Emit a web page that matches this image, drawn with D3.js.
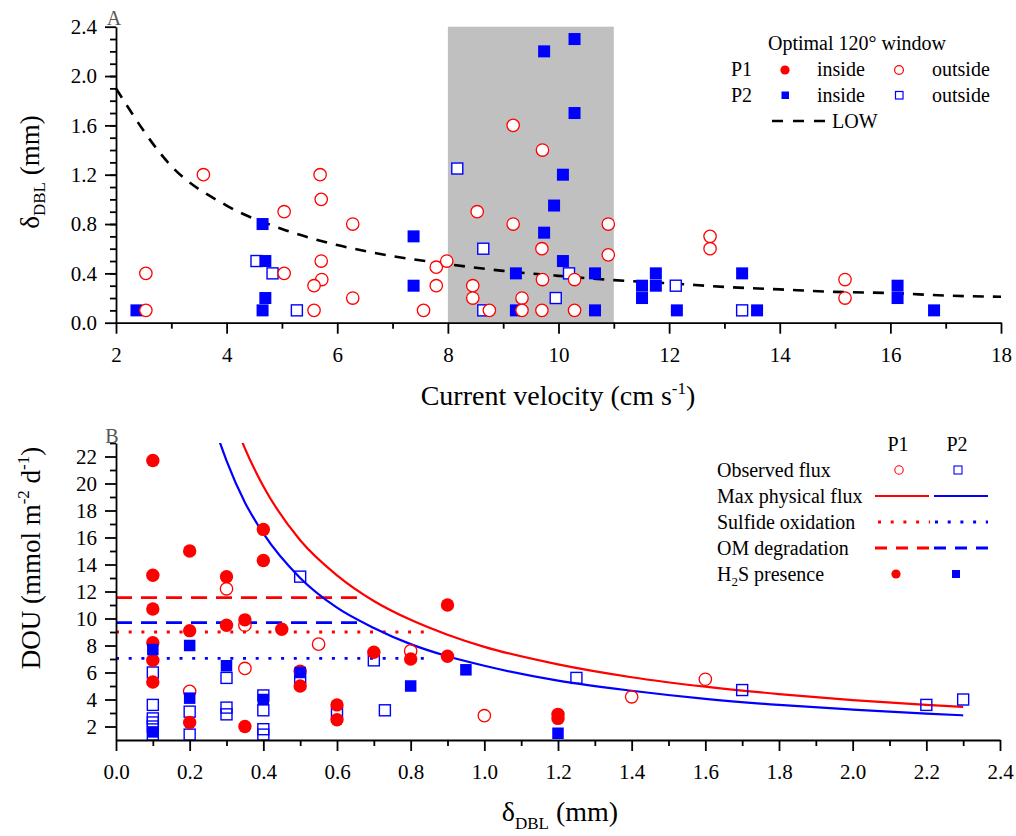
<!DOCTYPE html>
<html>
<head>
<meta charset="utf-8">
<script src="https://cdn.jsdelivr.net/npm/d3@7"></script>
<style>
  body { margin: 0; background: #fff; }
  svg { display: block; }
  text { font-family: "Liberation Serif", "Times New Roman", serif; fill: #000; }
</style>
</head>
<body>
<svg id="chart" width="1016" height="836"></svg>
<script>
// ---------- Panel A: diffusive boundary layer thickness vs current velocity ----------
// [velocity (cm s-1), δDBL (mm)]
const aP1Outside = [
  [2.54,0.1],[2.54,0.4],[3.58,1.2],[5.04,0.9],[5.04,0.4],[5.69,1.2],[5.71,1.0],[5.71,0.5],
  [5.72,0.35],[5.58,0.3],[5.58,0.1],[6.28,0.8],[6.28,0.2],[7.79,0.45],[7.79,0.3],[7.56,0.1],
  [7.98,0.5],[9.18,1.6],[9.71,1.4],[8.53,0.9],[9.18,0.8],[10.9,0.8],[9.70,0.6],[10.9,0.55],
  [9.71,0.35],[10.29,0.35],[8.45,0.3],[8.45,0.2],[9.34,0.2],[8.75,0.1],[9.34,0.1],[9.70,0.1],
  [10.29,0.1],[12.74,0.7],[12.74,0.6],[15.18,0.35],[15.18,0.2]
];
const aP2Inside = [
  [2.37,0.1],[4.65,0.8],[4.70,0.5],[4.70,0.2],[4.65,0.1],[7.38,0.7],[7.38,0.3],[10.29,2.3],
  [9.74,2.2],[10.29,1.7],[10.08,1.2],[9.92,0.95],[9.74,0.73],[10.08,0.5],[9.23,0.4],[10.66,0.4],
  [9.23,0.1],[10.66,0.1],[11.51,0.3],[11.51,0.2],[11.76,0.4],[11.76,0.3],[12.14,0.1],[13.32,0.4],
  [13.59,0.1],[16.13,0.3],[16.13,0.2],[16.79,0.1]
];
const aP2Outside = [
  [4.54,0.5],[4.83,0.4],[5.27,0.1],[8.17,1.25],[8.64,0.6],[10.19,0.4],[9.95,0.2],[8.64,0.1],
  [12.12,0.3],[13.32,0.1]
];
// LOW relation, sampled along the curve
const lowVelocity = [2,3,4,5,6,7,8,9,10,11,12,13,14,15,16,17,18];
const lowDbl      = [1.90,1.27,0.95,0.76,0.63,0.54,0.475,0.42,0.38,0.345,0.32,0.29,0.27,0.25,0.24,0.22,0.21];
// optimal 120° window (velocity range)
const windowRange = [8, 11];

const aXTicks = [2,4,6,8,10,12,14,16,18];
const aXMinor = [3,5,7,9,11,13,15,17];
const aYTicks = [0,0.4,0.8,1.2,1.6,2.0,2.4];
const aYMinor = d3.range(1,24).map(i => i/10);

// ---------- Panel B: DOU vs δDBL ----------
// [δDBL (mm), DOU (mmol m-2 d-1)]
const bP1Observed = [
  [0.3,12.2],[0.35,9.5],[0.35,6.3],[0.2,4.6],[0.55,8.1],[0.8,7.6],[1.0,2.8],[1.4,4.2],[1.6,5.5]
];
const bP2Observed = [
  [0.1,6.0],[0.1,3.6],[0.1,2.6],[0.1,2.3],[0.1,2.0],[0.1,1.4],[0.2,3.1],[0.2,1.4],[0.3,5.6],
  [0.3,3.4],[0.3,2.9],[0.4,4.3],[0.4,3.2],[0.4,1.8],[0.4,1.4],[0.5,13.1],[0.5,5.6],[0.6,3.0],
  [0.7,6.9],[0.73,3.2],[1.25,5.6],[1.7,4.7],[2.2,3.6],[2.3,4.0]
];
const bP1H2S = [
  [0.1,21.7],[0.1,13.2],[0.1,10.7],[0.1,8.2],[0.1,6.9],[0.1,5.3],[0.2,15.0],[0.2,9.1],[0.2,2.3],
  [0.3,13.1],[0.3,9.5],[0.35,9.9],[0.35,2.0],[0.4,16.6],[0.4,14.3],[0.45,9.2],[0.5,6.1],[0.5,5.0],
  [0.6,3.6],[0.6,2.5],[0.7,7.5],[0.8,7.0],[0.9,11.0],[0.9,7.2],[1.2,2.9],[1.2,2.6]
];
const bP2H2S = [
  [0.1,7.7],[0.1,1.6],[0.2,8.0],[0.2,4.1],[0.3,6.5],[0.4,4.0],[0.5,6.0],[0.8,5.0],[0.95,6.2],[1.2,1.5]
];
// maximum physical flux curves
const maxFluxDbl = [0.28,0.3,0.35,0.4,0.5,0.6,0.7,0.8,0.9,1.0,1.2,1.4,1.6,1.8,2.0,2.2,2.3];
const maxFluxP1  = [28.2,26.3,22.6,19.8,15.8,13.2,11.3,9.9,8.8,7.9,6.6,5.65,4.95,4.4,3.95,3.6,3.45];
const maxFluxP2  = [23.2,21.7,18.6,16.3,13.0,10.8,9.3,8.1,7.2,6.5,5.4,4.65,4.05,3.6,3.25,2.95,2.83];
// reference levels: [DOU, δDBL extent]
const sulfideP1 = [9.0, 0.86];
const sulfideP2 = [7.05, 0.86];
const omDegP1   = [11.55, 0.66];
const omDegP2   = [9.7, 0.66];

const bXTicks = d3.range(0,13).map(i => i*0.2);
const bXMinor = d3.range(0,13).map(i => i*0.2 + 0.1).filter(v => v < 2.4);
const bYTicks = [2,4,6,8,10,12,14,16,18,20,22];
const bYMinor = [3,5,7,9,11,13,15,17,19,21,23];

// ---------- drawing ----------
const RED = "#ff0000", BLUE = "#0000ff";
const svg = d3.select("#chart");

const xA = d3.scaleLinear().domain([2,18]).range([116,1001]);
const yA = d3.scaleLinear().domain([0,2.4]).range([322.7,26.7]);
const xB = d3.scaleLinear().domain([0,2.4]).range([116,1000]);
const yB = d3.scaleLinear().domain([1,23]).range([740,443]);

function drawAxis(axisFn, scale, minorVals, majorVals, fmt, pad, transform) {
  const g = svg.append("g").attr("transform", transform);
  g.append("g")
    .call(axisFn(scale).tickValues(minorVals).tickSize(6).tickSizeOuter(0).tickFormat(""))
    .call(a => a.select(".domain").remove());
  g.append("g")
    .call(axisFn(scale).tickValues(majorVals).tickSize(11).tickSizeOuter(0).tickPadding(pad).tickFormat(fmt));
  g.selectAll("line, path").attr("stroke", "#000").attr("stroke-width", 1.8);
  g.selectAll("text").attr("font-family", "Liberation Serif, serif").attr("font-size", 21).attr("fill", "#000");
  return g;
}

function circles(data, sx, sy, r, fill, stroke, sw) {
  svg.append("g").selectAll("circle").data(data).join("circle")
    .attr("cx", d => sx(d[0])).attr("cy", d => sy(d[1])).attr("r", r)
    .attr("fill", fill).attr("stroke", stroke).attr("stroke-width", sw);
}
function squares(data, sx, sy, s, fill, stroke, sw) {
  svg.append("g").selectAll("rect").data(data).join("rect")
    .attr("x", d => sx(d[0]) - s/2).attr("y", d => sy(d[1]) - s/2)
    .attr("width", s).attr("height", s)
    .attr("fill", fill).attr("stroke", stroke).attr("stroke-width", sw);
}

// ===== Panel A =====
svg.append("rect")
  .attr("x", xA(windowRange[0])).attr("y", yA(2.4))
  .attr("width", xA(windowRange[1]) - xA(windowRange[0]))
  .attr("height", yA(0) - yA(2.4))
  .attr("fill", "#c0c0c0");

const lowLine = d3.line().x(d => xA(d[0])).y(d => yA(d[1])).curve(d3.curveMonotoneX);
svg.append("path")
  .attr("d", lowLine(lowVelocity.map((v, i) => [v, lowDbl[i]])))
  .attr("fill", "none").attr("stroke", "#000").attr("stroke-width", 2.6)
  .attr("stroke-dasharray", "11,9");

squares(aP2Outside, xA, yA, 11, "#fff", BLUE, 1.4);
squares(aP2Inside, xA, yA, 12, BLUE, "none", 0);
circles(aP1Outside, xA, yA, 6.2, "#fff", RED, 1.3);

drawAxis(d3.axisLeft, yA, aYMinor, aYTicks, d3.format(".1f"), 8, "translate(116,0)");
drawAxis(d3.axisBottom, xA, aXMinor, aXTicks, d3.format("d"), 13, "translate(0,322.7)");

svg.append("text").attr("x", 114).attr("y", 25).attr("text-anchor", "middle")
  .attr("font-size", 20).style("fill", "#555").text("A");

// axis titles A
const tAx = svg.append("text").attr("x", 558).attr("y", 405).attr("text-anchor", "middle").attr("font-size", 28);
tAx.append("tspan").text("Current velocity (cm s");
tAx.append("tspan").attr("dy", -11).attr("font-size", 17).text("-1");
tAx.append("tspan").attr("dy", 11).text(")");

const tAy = svg.append("text").attr("transform", "translate(39,172) rotate(-90)")
  .attr("text-anchor", "middle").attr("font-size", 27);
tAy.append("tspan").text("δ");
tAy.append("tspan").attr("dy", 6).attr("font-size", 17).text("DBL");
tAy.append("tspan").attr("dy", -6).text(" (mm)");

// legend A
const legA = svg.append("g").attr("font-size", 20);
legA.append("text").attr("x", 768).attr("y", 50).text("Optimal 120° window");
legA.append("text").attr("x", 731).attr("y", 76).text("P1");
legA.append("text").attr("x", 731).attr("y", 102).text("P2");
legA.append("text").attr("x", 817).attr("y", 76).text("inside");
legA.append("text").attr("x", 932).attr("y", 76).text("outside");
legA.append("text").attr("x", 817).attr("y", 102).text("inside");
legA.append("text").attr("x", 932).attr("y", 102).text("outside");
legA.append("circle").attr("cx", 785).attr("cy", 70).attr("r", 4.6).attr("fill", RED);
legA.append("circle").attr("cx", 899).attr("cy", 70).attr("r", 4.4).attr("fill", "#fff").attr("stroke", RED).attr("stroke-width", 1.2);
legA.append("rect").attr("x", 781.5).attr("y", 91.5).attr("width", 7.5).attr("height", 7.5).attr("fill", BLUE);
legA.append("rect").attr("x", 895.5).attr("y", 91.5).attr("width", 7.5).attr("height", 7.5).attr("fill", "#fff").attr("stroke", BLUE).attr("stroke-width", 1.2);
legA.append("line").attr("x1", 772).attr("x2", 825).attr("y1", 121).attr("y2", 121)
  .attr("stroke", "#000").attr("stroke-width", 2.6).attr("stroke-dasharray", "11,10");
legA.append("text").attr("x", 832).attr("y", 128).text("LOW");

// ===== Panel B =====
svg.append("defs").append("clipPath").attr("id", "clipB")
  .append("rect").attr("x", 116).attr("y", 443).attr("width", 884).attr("height", 297);

function hline(level, color, dash) {
  svg.append("line")
    .attr("x1", xB(0)).attr("x2", xB(level[1]))
    .attr("y1", yB(level[0])).attr("y2", yB(level[0]))
    .attr("stroke", color).attr("stroke-width", 2.8).attr("stroke-dasharray", dash);
}
hline(omDegP1, RED, "16,9");
hline(omDegP2, BLUE, "16,9");
hline(sulfideP1, RED, "3,9.7");
hline(sulfideP2, BLUE, "3,9.7");

const fluxLine = d3.line().x(d => xB(d[0])).y(d => yB(d[1])).curve(d3.curveMonotoneX);
const curves = svg.append("g").attr("clip-path", "url(#clipB)");
curves.append("path").attr("d", fluxLine(maxFluxDbl.map((d, i) => [d, maxFluxP1[i]])))
  .attr("fill", "none").attr("stroke", RED).attr("stroke-width", 2.2);
curves.append("path").attr("d", fluxLine(maxFluxDbl.map((d, i) => [d, maxFluxP2[i]])))
  .attr("fill", "none").attr("stroke", BLUE).attr("stroke-width", 2.2);

circles(bP1Observed, xB, yB, 6.2, "none", RED, 1.3);
squares(bP2Observed, xB, yB, 11, "none", BLUE, 1.4);
circles(bP1H2S, xB, yB, 6.7, RED, "none", 0);
squares(bP2H2S, xB, yB, 11.5, BLUE, "none", 0);

drawAxis(d3.axisLeft, yB, bYMinor, bYTicks, d3.format("d"), 8, "translate(116,0)");
drawAxis(d3.axisBottom, xB, bXMinor, bXTicks, d3.format(".1f"), 13, "translate(0,740)");

svg.append("text").attr("x", 112).attr("y", 443).attr("text-anchor", "middle")
  .attr("font-size", 20).style("fill", "#555").text("B");

// axis titles B
const tBx = svg.append("text").attr("x", 560).attr("y", 821).attr("text-anchor", "middle").attr("font-size", 28);
tBx.append("tspan").text("δ");
tBx.append("tspan").attr("dy", 8).attr("font-size", 17).text("DBL");
tBx.append("tspan").attr("dy", -8).text(" (mm)");

const tBy = svg.append("text").attr("transform", "translate(40,558) rotate(-90)")
  .attr("text-anchor", "middle").attr("font-size", 27);
tBy.append("tspan").text("DOU (mmol m");
tBy.append("tspan").attr("dy", -11).attr("font-size", 17).text("-2");
tBy.append("tspan").attr("dy", 11).text(" d");
tBy.append("tspan").attr("dy", -11).attr("font-size", 17).text("-1");
tBy.append("tspan").attr("dy", 11).text(")");

// legend B
const legB = svg.append("g").attr("font-size", 20);
legB.append("text").attr("x", 898).attr("y", 451).attr("text-anchor", "middle").text("P1");
legB.append("text").attr("x", 957).attr("y", 451).attr("text-anchor", "middle").text("P2");
legB.append("text").attr("x", 717).attr("y", 477).text("Observed flux");
legB.append("text").attr("x", 717).attr("y", 503).text("Max physical flux");
legB.append("text").attr("x", 717).attr("y", 529).text("Sulfide oxidation");
legB.append("text").attr("x", 717).attr("y", 555).text("OM degradation");
const h2s = legB.append("text").attr("x", 717).attr("y", 581);
h2s.append("tspan").text("H");
h2s.append("tspan").attr("dy", 5).attr("font-size", 13).text("2");
h2s.append("tspan").attr("dy", -5).text("S presence");

legB.append("circle").attr("cx", 899).attr("cy", 470).attr("r", 4.2).attr("fill", "none").attr("stroke", RED).attr("stroke-width", 1.1);
legB.append("rect").attr("x", 954).attr("y", 466).attr("width", 8).attr("height", 8).attr("fill", "none").attr("stroke", BLUE).attr("stroke-width", 1.1);
legB.append("line").attr("x1", 875).attr("x2", 929).attr("y1", 496).attr("y2", 496).attr("stroke", RED).attr("stroke-width", 2.2);
legB.append("line").attr("x1", 934).attr("x2", 988).attr("y1", 496).attr("y2", 496).attr("stroke", BLUE).attr("stroke-width", 2.2);
legB.append("line").attr("x1", 878).attr("x2", 930).attr("y1", 522).attr("y2", 522).attr("stroke", RED).attr("stroke-width", 2.8).attr("stroke-dasharray", "3,9.7");
legB.append("line").attr("x1", 935).attr("x2", 988).attr("y1", 522).attr("y2", 522).attr("stroke", BLUE).attr("stroke-width", 2.8).attr("stroke-dasharray", "3,9.7");
legB.append("line").attr("x1", 875).attr("x2", 929).attr("y1", 548).attr("y2", 548).attr("stroke", RED).attr("stroke-width", 2.8).attr("stroke-dasharray", "12,9");
legB.append("line").attr("x1", 934).attr("x2", 988).attr("y1", 548).attr("y2", 548).attr("stroke", BLUE).attr("stroke-width", 2.8).attr("stroke-dasharray", "12,9");
legB.append("circle").attr("cx", 896).attr("cy", 574).attr("r", 4.6).attr("fill", RED);
legB.append("rect").attr("x", 952).attr("y", 570).attr("width", 8).attr("height", 8).attr("fill", BLUE);
</script>
</body>
</html>
